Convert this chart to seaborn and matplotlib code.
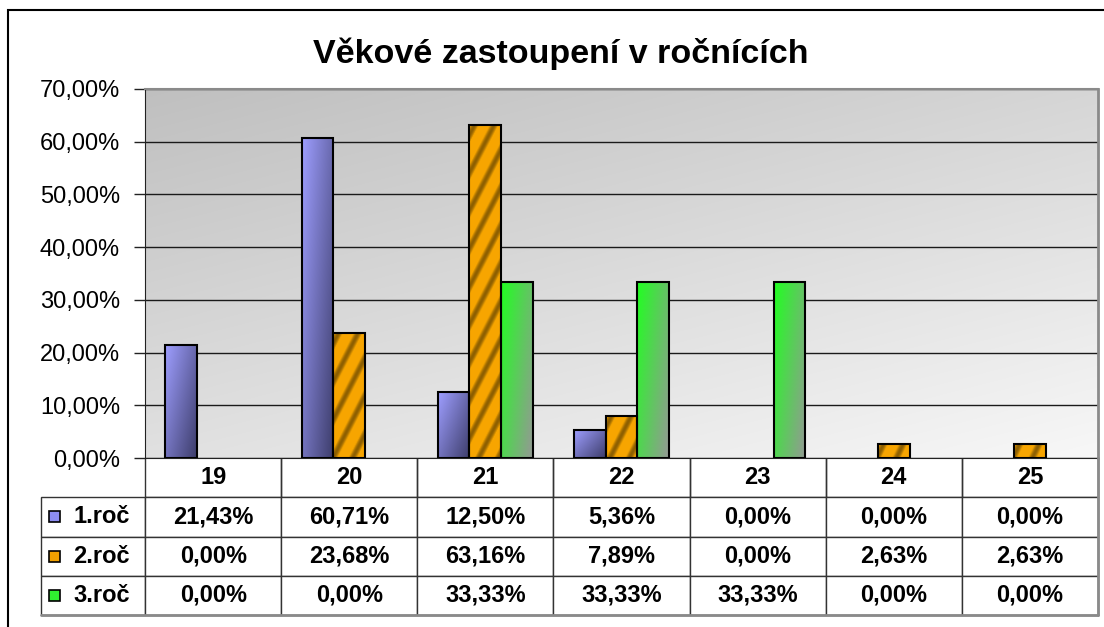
import numpy as np
import pandas as pd
import matplotlib
matplotlib.use("Agg")
import matplotlib.pyplot as plt
from matplotlib.patches import Rectangle
from matplotlib.ticker import FuncFormatter, MultipleLocator
import seaborn as sns

# data
vek = ['19', '20', '21', '22', '23', '24', '25']
rocniky = ['1.roč', '2.roč', '3.roč']
roc1 = [21.43, 60.71, 12.50, 5.36, 0.00, 0.00, 0.00]
roc2 = [0.00, 23.68, 63.16, 7.89, 0.00, 2.63, 2.63]
roc3 = [0.00, 0.00, 33.33, 33.33, 33.33, 0.00, 0.00]
barvy = ['#8c8cf0', '#f0a000', '#30f030']

df = pd.DataFrame({
    'vek': vek * 3,
    'podil': roc1 + roc2 + roc3,
    'rocnik': [r for r in rocniky for _ in vek],
})

sns.set_style('white')
plt.rcParams['font.family'] = ['Liberation Sans', 'DejaVu Sans']
plt.rcParams['text.color'] = 'black'


def pct(v):
    return f"{v:.2f}".replace('.', ',') + '%'


fig = plt.figure(figsize=(11.04, 6.27), dpi=100)
ax = fig.add_axes([145 / 1104, 169 / 627, 953 / 1104, 369 / 627])

sns.barplot(data=df, x='vek', y='podil', hue='rocnik', palette=barvy,
            width=0.7, edgecolor='black', linewidth=1.5, legend=False,
            saturation=1, ax=ax)
ax.set_ylim(0, 70)
ax.set_xlim(-0.5, len(vek) - 0.5)

# background gradient of plot area
gy, gx = np.mgrid[0:1:200j, 0:1:300j]
g = 0.75 + 0.22 * (0.6 * gy + 0.4 * gx)
ax.imshow(np.dstack([g, g, g]), extent=(0, 1, 0, 1), transform=ax.transAxes,
          aspect='auto', zorder=0.1, interpolation='bilinear')


def fill_bar(p, kind):
    x0, w, h = p.get_x(), p.get_width(), p.get_height()
    (px0, py0), (px1, py1) = ax.transData.transform([(x0, 0), (x0 + w, h)])
    nx, ny = max(int(px1 - px0), 2), max(int(py1 - py0), 2)
    Y, X = np.mgrid[0:ny, 0:nx]
    u = X / (nx - 1)
    v = Y / max(ny - 1, 1)
    if kind == 0:
        t = np.clip(0.55 * u + 0.45 * v, 0, 1)[..., None]
        img = (1 - t) * np.array([0.62, 0.62, 1.0]) + t * np.array([0.24, 0.24, 0.42])
    elif kind == 1:
        # diagonal "/" stripes
        s = np.sin(2 * np.pi * (0.9 * X + 0.45 * Y) / 17.0)
        t = np.clip((s - 0.15) / 0.85, 0, 1)[..., None]
        img = (1 - t) * np.array([0.97, 0.65, 0.0]) + t * np.array([0.55, 0.37, 0.0])
    else:
        t = np.clip(0.6 * u + 0.4 * v, 0, 1)[..., None]
        img = (1 - t) * np.array([0.13, 1.0, 0.13]) + t * np.array([0.58, 0.6, 0.58])
    im = ax.imshow(img, extent=(x0, x0 + w, 0, h), aspect='auto', origin='upper',
                   zorder=2.5, interpolation='bilinear')
    im.set_clip_path(p)
    p.set_facecolor('none')
    p.set_zorder(3)


for i, cont in enumerate(ax.containers):
    for p in cont:
        if p.get_height() <= 0:
            p.set_visible(False)
        else:
            fill_bar(p, i)

ax.set_xlim(-0.5, len(vek) - 0.5)
ax.set_ylim(0, 70)

ax.yaxis.set_major_locator(MultipleLocator(10))
ax.yaxis.set_major_formatter(FuncFormatter(lambda v, _: pct(v)))
ax.grid(axis='y', color='#1a1a1a', linewidth=1)
for ln in ax.get_ygridlines():
    ln.set_zorder(1)
ax.tick_params(axis='y', left=True, length=8, width=1, color='#222222',
               pad=10, labelsize=17, labelcolor='black', direction='out')
ax.set_xticks([])
ax.set_xlabel('')
ax.set_ylabel('')
ax.spines['left'].set_color('#222222')
ax.spines['bottom'].set_color('#222222')
ax.spines['top'].set_color('#8a8a8a')
ax.spines['right'].set_color('#8a8a8a')
ax.spines['top'].set_linewidth(1.5)
ax.spines['right'].set_linewidth(2)

fig.text(561 / 1104, 1 - 63 / 627, 'Věkové zastoupení v ročnících', fontsize=24.5,
         fontweight='bold', color='black', ha='center', va='baseline')

# data table under the plot
cell_text = [[''] + vek]
for name, vals in zip(rocniky, [roc1, roc2, roc3]):
    cell_text.append([name] + [pct(v) for v in vals])

tb_x0 = (41 - 145) / 953
tb_h = 157 / 369
tab = ax.table(cellText=cell_text, cellLoc='center',
               colWidths=[104] + [136] * len(vek),
               bbox=[tb_x0, -tb_h, 1 - tb_x0, tb_h])
tab.auto_set_font_size(False)
tab.set_fontsize(17)
for (r, c), cell in tab.get_celld().items():
    cell.set_edgecolor('#333333')
    cell.set_linewidth(1)
    cell.get_text().set_fontweight('bold')
    cell.get_text().set_color('black')
    cell.set_facecolor('white')
    if r == 0 and c == 0:
        cell.visible_edges = ''
    elif r == 0:
        cell.visible_edges = 'BRL'
    if c == 0 and r > 0:
        cell.get_text().set_ha('left')
        cell._loc = 'left'
        cell.PAD = 0.31

rh = tb_h / len(cell_text)
for i, col in enumerate(barvy):
    yc = -(i + 1.5) * rh
    ax.add_patch(Rectangle((tb_x0 + 8 / 953, yc - 5.5 / 369), 11 / 953, 11 / 369,
                           transform=ax.transAxes, facecolor=col,
                           edgecolor='black', linewidth=1.2, clip_on=False, zorder=5))

# gray shadow on the outer table edges
ax.plot([tb_x0, 1], [-tb_h, -tb_h], transform=ax.transAxes, color='#8a8a8a',
        linewidth=2, clip_on=False, zorder=6)
ax.plot([1, 1], [-tb_h, 0], transform=ax.transAxes, color='#8a8a8a',
        linewidth=2, clip_on=False, zorder=6)

# outer chart border
fig.add_artist(Rectangle((8 / 1104, -0.1), 1.2, 1.1 - 10 / 627, transform=fig.transFigure,
                         fill=False, edgecolor='black', linewidth=1.5))

fig.savefig('out.png', dpi=100)
